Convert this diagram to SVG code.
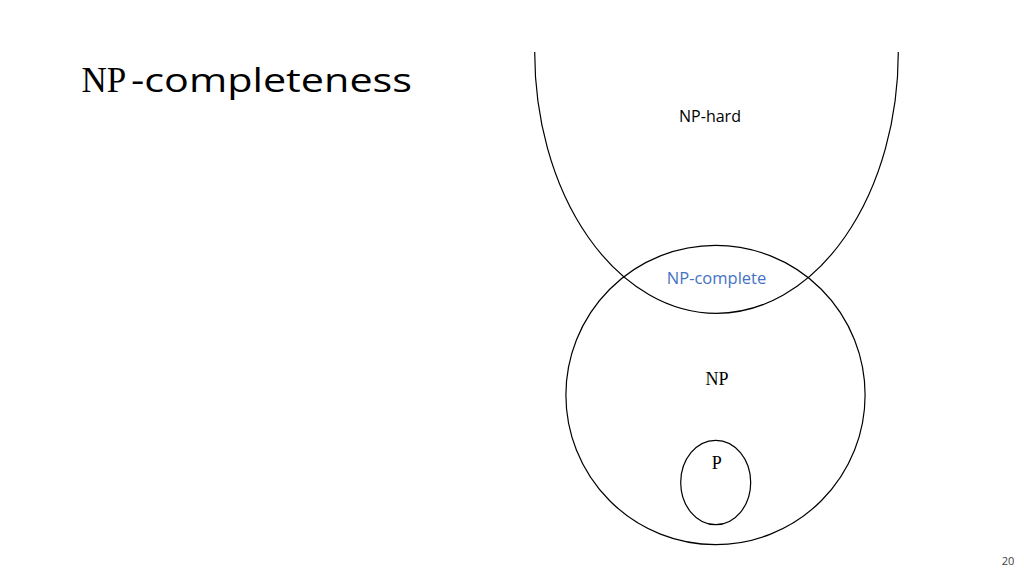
<svg xmlns="http://www.w3.org/2000/svg" width="1024" height="576" viewBox="0 0 1024 576">
<style>
.shape{fill:none;stroke:#000;stroke-width:1.2}
.sans{font-family:"Open Sans","Liberation Sans",sans-serif}
.serif{font-family:"Liberation Serif","DejaVu Serif",serif}
</style>
<rect width="1024" height="576" fill="#fff"/>
<g id="title">
<text class="serif" x="81.5" y="92" font-size="35" fill="#000">NP</text>
<text class="sans" x="131" y="92" font-size="33" textLength="281" lengthAdjust="spacingAndGlyphs" fill="#000">-completeness</text>
</g>
<g id="np-hard">
<path class="shape" d="M534.7 52 A181.8 261.3 0 0 0 898.3 52"/>
<text class="sans" x="710" y="122" font-size="16" text-anchor="middle" fill="#000">NP-hard</text>
</g>
<g id="np">
<circle class="shape" cx="715.5" cy="395" r="149.6"/>
<text class="serif" x="717" y="385" font-size="18" text-anchor="middle" fill="#000">NP</text>
</g>
<g id="np-complete">
<text class="sans" x="716.5" y="284" font-size="16.5" text-anchor="middle" fill="#4472C4">NP-complete</text>
</g>
<g id="p">
<ellipse class="shape" cx="715.7" cy="482.5" rx="35" ry="42.2"/>
<text class="serif" x="716.7" y="468.5" font-size="18" text-anchor="middle" fill="#000">P</text>
</g>
<g id="connectors"/>
<g id="page-number">
<text class="sans" x="1008" y="565" font-size="11" text-anchor="middle" fill="#404040">20</text>
</g>
</svg>
